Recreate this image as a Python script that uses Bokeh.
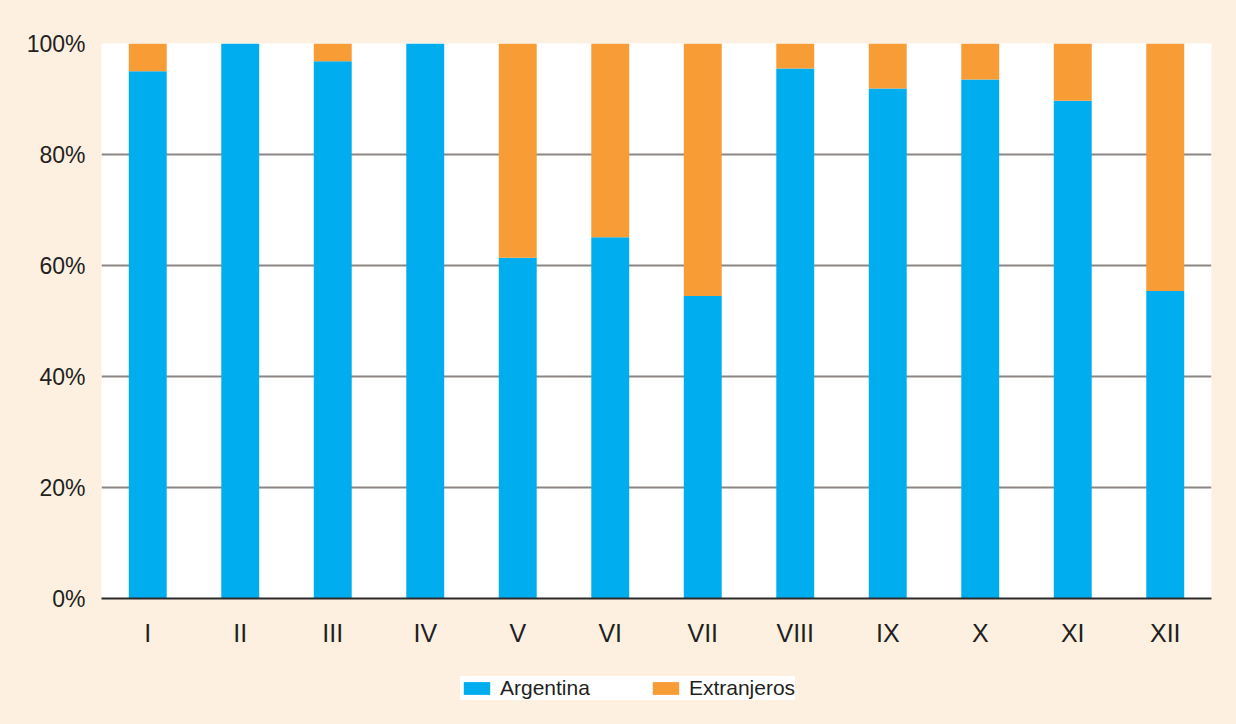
from bokeh.plotting import figure
from bokeh.layouts import column
from bokeh.models import ColumnDataSource, Legend, LegendItem, FixedTicker, Range1d
from bokeh.embed import file_html
from bokeh.resources import INLINE

categories = ["I", "II", "III", "IV", "V", "VI", "VII", "VIII", "IX", "X", "XI", "XII"]
argentina = [95.0, 100.0, 96.8, 100.0, 61.4, 65.1, 54.5, 95.5, 91.9, 93.5, 89.7, 55.4]
extranjeros = [5.0, 0.0, 3.2, 0.0, 38.6, 34.9, 45.5, 4.5, 8.1, 6.5, 10.3, 44.6]
series_names = ["Argentina", "Extranjeros"]
y_ticks = [0, 20, 40, 60, 80, 100]
y_tick_labels = {0: "0%", 20: "20%", 40: "40%", 60: "60%", 80: "80%", 100: "100%"}

BLUE = "#00AEEF"
ORANGE = "#F89C35"
CREAM = "#FDF0E1"
TEXT = "#231F20"
FONT = "Liberation Sans"

source = ColumnDataSource(dict(cat=categories, Argentina=argentina, Extranjeros=extranjeros))

p = figure(x_range=categories, y_range=Range1d(0, 100), width=1236, height=660,
           output_backend="svg", toolbar_location=None,
           min_border_left=101, min_border_right=25, min_border_top=43, min_border_bottom=62)
p.border_fill_color = CREAM
p.background_fill_color = "white"
p.outline_line_color = None

r = p.vbar_stack(series_names, x="cat", width=0.41, source=source,
                 color=[BLUE, ORANGE], line_color=None)

p.xgrid.grid_line_color = None
p.ygrid.grid_line_color = "#8C8683"
p.ygrid.grid_line_width = 2
p.ygrid.ticker = FixedTicker(ticks=y_ticks)

p.yaxis.ticker = FixedTicker(ticks=y_ticks)
p.yaxis.major_label_overrides = y_tick_labels
p.yaxis.axis_line_color = None
p.yaxis.major_tick_line_color = None
p.yaxis.minor_tick_line_color = None
p.yaxis.major_tick_out = 0
p.yaxis.major_label_standoff = 16
p.yaxis.major_label_text_font = FONT
p.yaxis.major_label_text_font_size = "23px"
p.yaxis.major_label_text_color = TEXT

p.xaxis.axis_line_color = "#2A2A2A"
p.xaxis.axis_line_width = 2
p.xaxis.major_tick_line_color = None
p.xaxis.major_tick_out = 0
p.xaxis.major_label_standoff = 20
p.xaxis.major_label_text_font = FONT
p.xaxis.major_label_text_font_size = "25px"
p.xaxis.major_label_text_color = TEXT

# Legend strip below the chart (its bars sit outside its visible y range,
# so only the legend is seen)
lf = figure(width=1236, height=64, x_range=categories, y_range=Range1d(1000, 1001),
            output_backend="svg", toolbar_location=None,
            x_axis_type=None, y_axis_type=None,
            min_border_left=0, min_border_right=0, min_border_top=0, min_border_bottom=0)
lf.border_fill_color = None
lf.background_fill_color = None
lf.outline_line_color = None
lf.xgrid.grid_line_color = None
lf.ygrid.grid_line_color = None
proxies = lf.vbar_stack(series_names, x="cat", width=0.41, source=source,
                        color=[BLUE, ORANGE], line_color=None)

legend = Legend(items=[LegendItem(label=series_names[0], renderers=[proxies[0]]),
                       LegendItem(label=series_names[1], renderers=[proxies[1]])],
                orientation="horizontal", location=(359, 24))
legend.background_fill_color = "white"
legend.background_fill_alpha = 1.0
legend.border_line_color = None
legend.padding = 13
legend.margin = 0
legend.spacing = 59
legend.glyph_width = 33
legend.glyph_height = 16
legend.label_standoff = 7
legend.label_height = 14
legend.label_text_font = FONT
legend.label_text_font_size = "21px"
legend.label_text_color = TEXT
lf.add_layout(legend, "center")

layout = column(p, lf, spacing=0, styles={"background-color": CREAM})
open("out.html", "w").write(file_html(layout, INLINE))
